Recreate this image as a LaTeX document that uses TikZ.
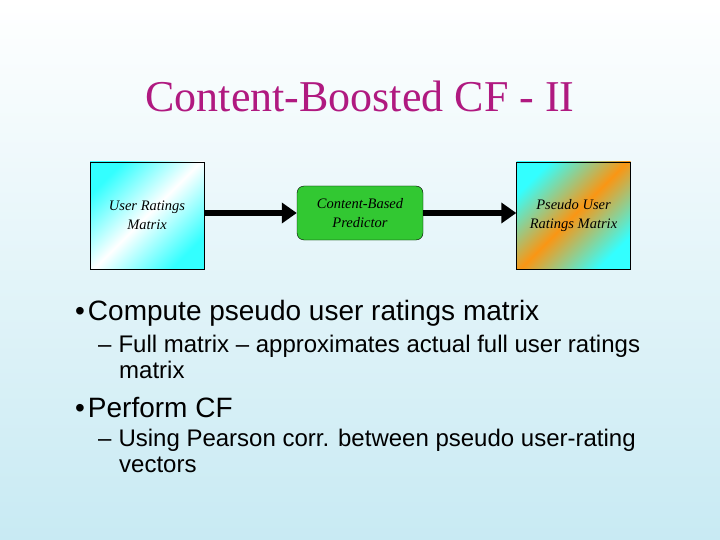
\documentclass[tikz,border=0pt]{standalone}
\usepackage{fontspec}
\setmainfont{Liberation Serif}
\newfontfamily\arialfont{Liberation Sans}
\usetikzlibrary{arrows.meta}
\definecolor{titlemag}{RGB}{176,25,128}
\definecolor{bgbottom}{RGB}{200,234,243}
\definecolor{predgreen}{RGB}{50,200,50}
\definecolor{pseudoorange}{RGB}{250,150,20}
\tikzset{
  matbox/.style={draw, minimum width=114pt, minimum height=107pt, inner sep=0pt, align=center, font=\fontsize{14.5}{19}\selectfont\itshape},
  predbox/.style={draw, rounded corners=7pt, fill=predgreen, minimum width=126pt, minimum height=54pt, align=center, font=\fontsize{14.5}{19}\selectfont\itshape},
  flow/.style={line width=5.5pt, -{Triangle[length=15pt,width=20pt]}},
  bullettext/.style={anchor=west, inner sep=0pt, font=\arialfont\fontsize{28}{30}\selectfont},
  subtext/.style={anchor=north west, align=left, font=\arialfont\fontsize{24}{26}\selectfont, inner sep=0pt}
}
\begin{document}
\begin{tikzpicture}[x=1pt,y=-1pt]
%background
\shade [top color=white, bottom color=bgbottom] (0,0) rectangle (720,540);
\useasboundingbox (0,0) rectangle (720,540);

%title
\node (title) [text=titlemag, font=\fontsize{44}{48}\selectfont] at (360,96) {Content-Boosted CF - II};

%boxes
\node (ratings) [matbox, left color=cyan!80, right color=cyan!80, middle color=white, shading angle=45] at (147,215.5) {User Ratings\\Matrix};
\node (predictor) [predbox] at (360,213) {Content-Based\\Predictor};
\node (pseudo) [matbox, left color=cyan!80, right color=cyan!80, middle color=pseudoorange, shading angle=45] at (573.5,215.5) {Pseudo User\\Ratings Matrix};

%arrows
\draw [flow] (ratings.east |- predictor) -- (predictor.west);
\draw [flow] (predictor.east) -- (pseudo.west |- predictor);

%bullets
\node (b1) [bullettext] at (75,313) {\textbullet\hspace{3pt}Compute pseudo user ratings matrix};
\node (s1) [subtext] at (98,335) {\textendash\hspace{7pt}Full matrix \textendash\ approximates actual full user ratings\\\hspace{21pt}matrix};
\node (b2) [bullettext] at (75,408) {\textbullet\hspace{3pt}Perform CF};
\node (s2) [subtext] at (98,429) {\textendash\hspace{7pt}Using Pearson corr. between pseudo user-rating\\\hspace{21pt}vectors};
\end{tikzpicture}
\end{document}
